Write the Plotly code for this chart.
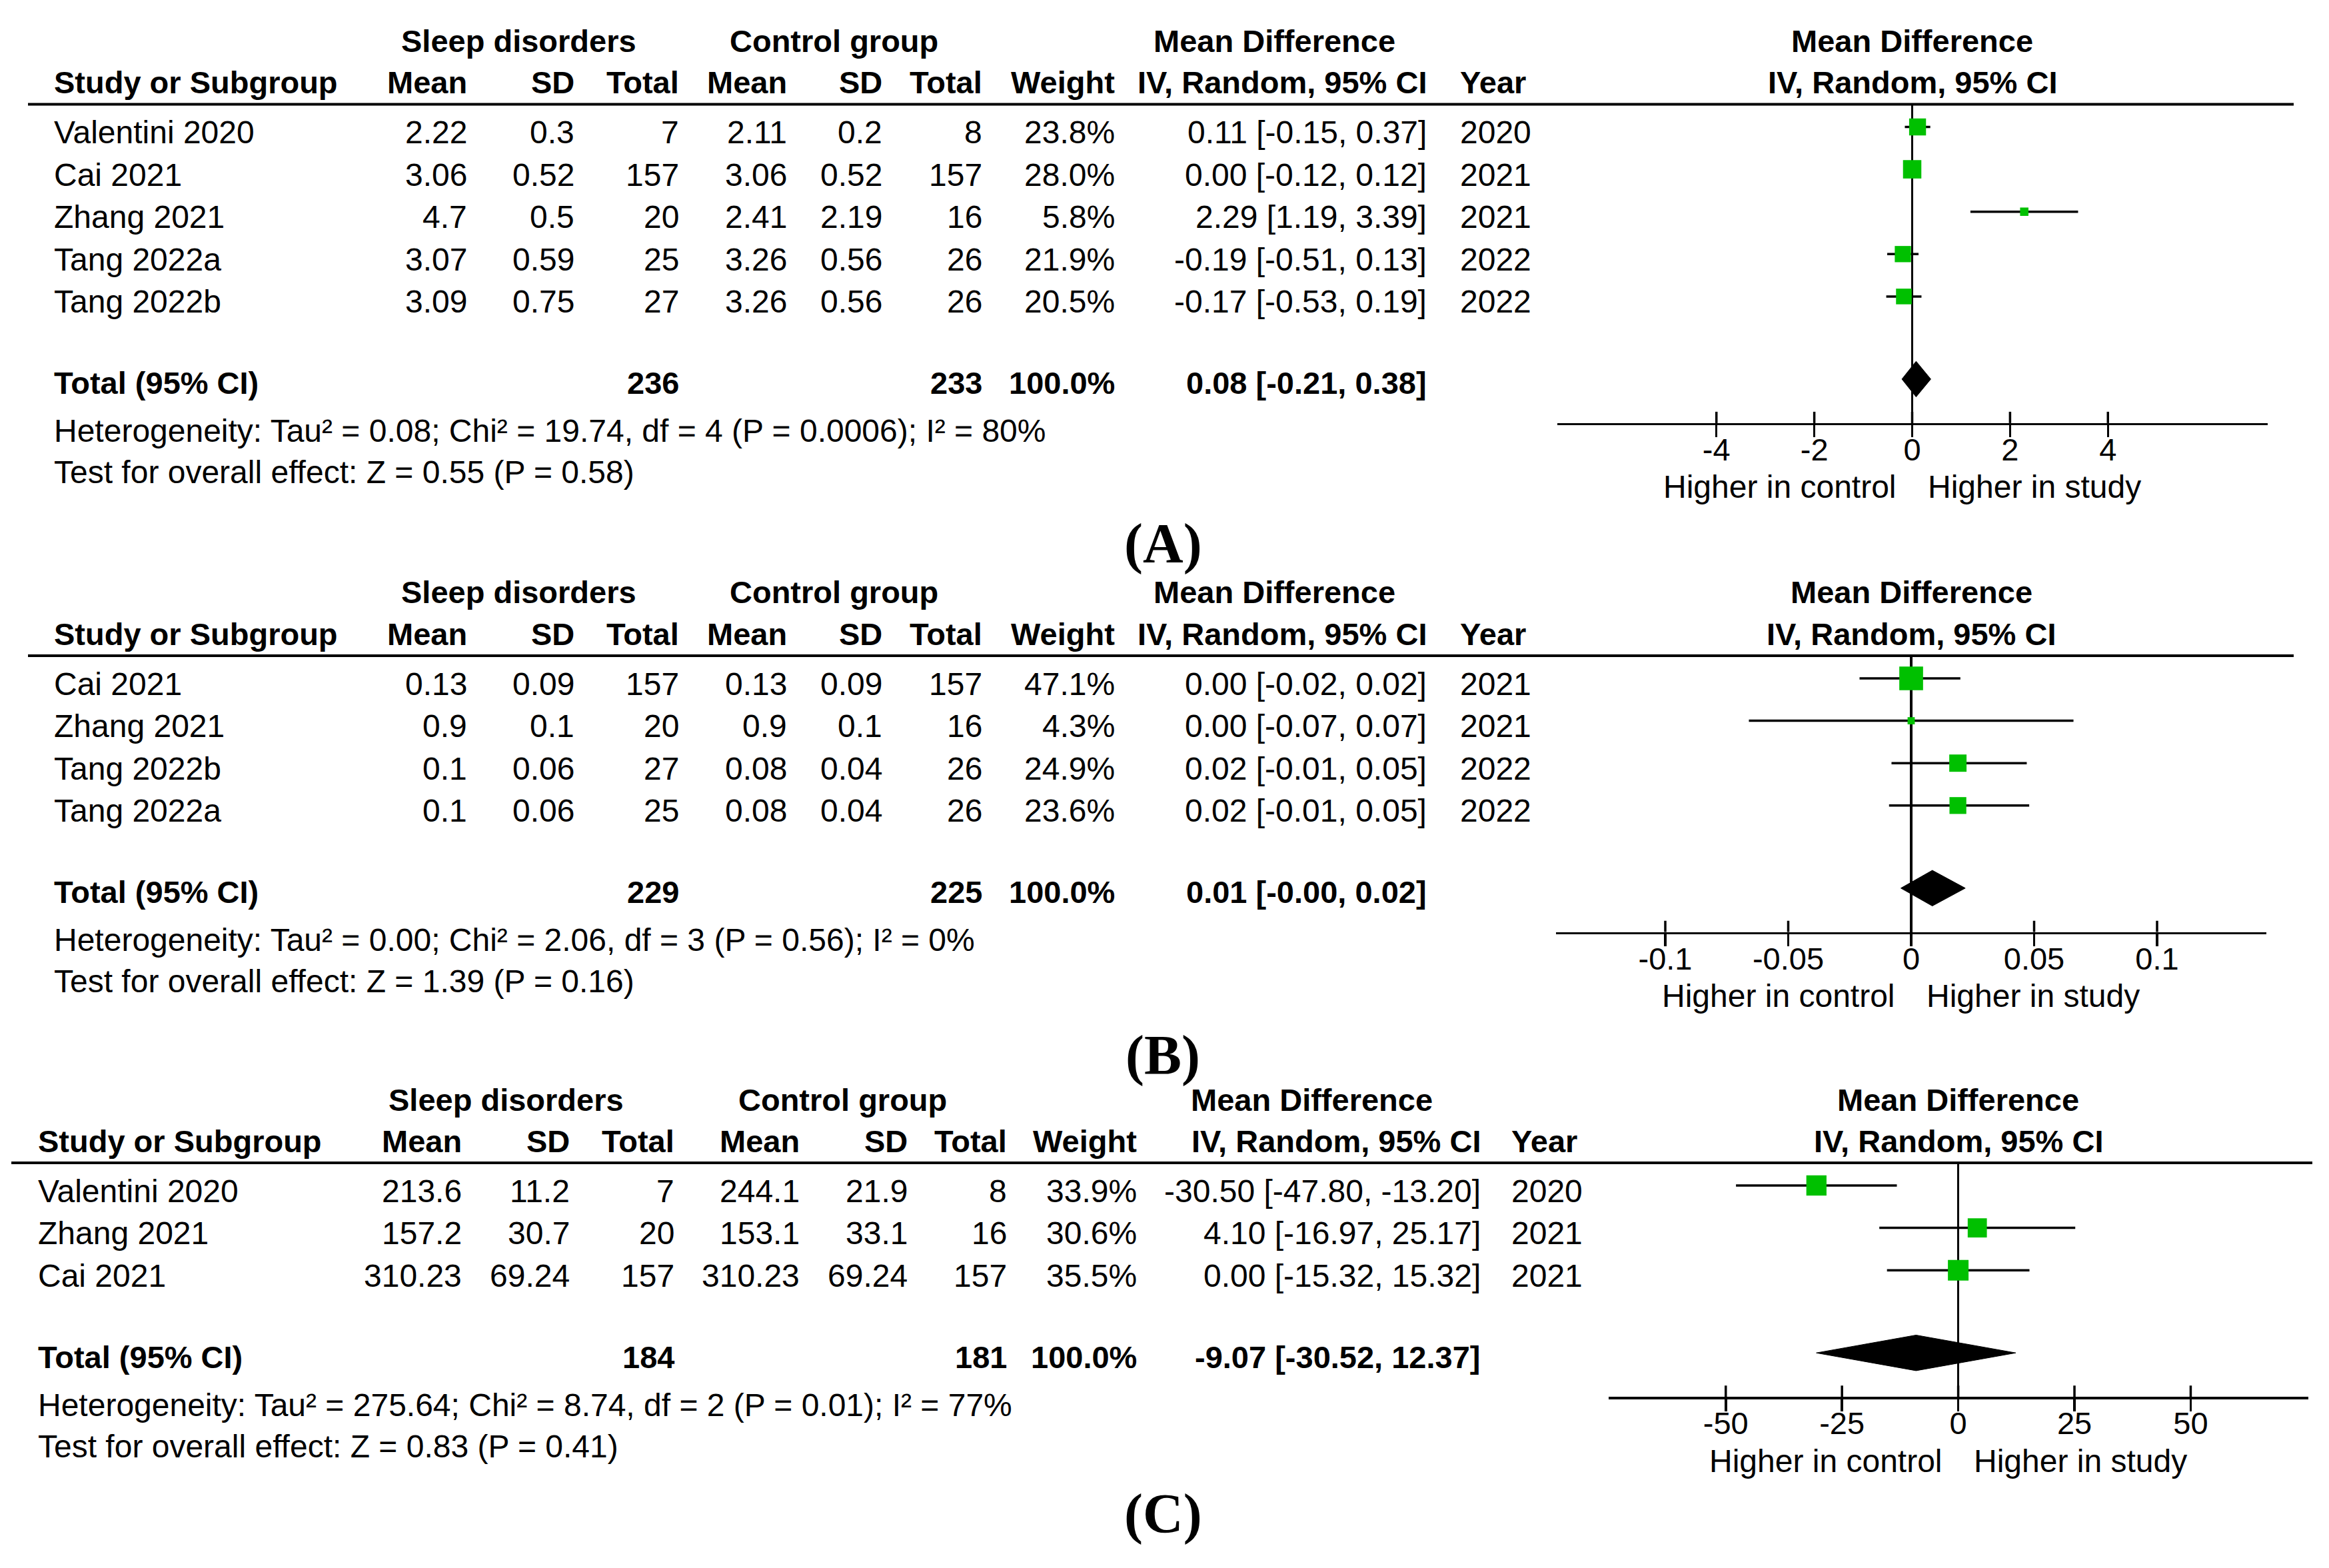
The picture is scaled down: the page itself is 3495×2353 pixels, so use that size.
import math
import plotly.graph_objects as go

W, H = 3495, 2353
FONT = "Liberation Sans, Arial, sans-serif"
SERIF = "Liberation Serif, Times New Roman, serif"
FS = 48      # regular text
FSB = 47     # bold text
FST = 47     # tick labels
GREEN = "#00C000"

# ---------------- Panel A data ----------------
A_study = ["Valentini 2020", "Cai 2021", "Zhang 2021", "Tang 2022a", "Tang 2022b"]
A_mean1 = [2.22, 3.06, 4.7, 3.07, 3.09]
A_sd1 = [0.3, 0.52, 0.5, 0.59, 0.75]
A_n1 = [7, 157, 20, 25, 27]
A_mean2 = [2.11, 3.06, 2.41, 3.26, 3.26]
A_sd2 = [0.2, 0.52, 2.19, 0.56, 0.56]
A_n2 = [8, 157, 16, 26, 26]
A_weight = [23.8, 28.0, 5.8, 21.9, 20.5]
A_md = [0.11, 0.00, 2.29, -0.19, -0.17]
A_lo = [-0.15, -0.12, 1.19, -0.51, -0.53]
A_hi = [0.37, 0.12, 3.39, 0.13, 0.19]
A_year = [2020, 2021, 2021, 2022, 2022]
A_total_n = [236, 233]
A_total_weight = 100.0
A_total_md = [0.08, -0.21, 0.38]
A_het = "Heterogeneity: Tau² = 0.08; Chi² = 19.74, df = 4 (P = 0.0006); I² = 80%"
A_test = "Test for overall effect: Z = 0.55 (P = 0.58)"
A_tickvals = [-4, -2, 0, 2, 4]
A_ticktext = ["-4", "-2", "0", "2", "4"]

# ---------------- Panel B data ----------------
B_study = ["Cai 2021", "Zhang 2021", "Tang 2022b", "Tang 2022a"]
B_mean1 = [0.13, 0.9, 0.1, 0.1]
B_sd1 = [0.09, 0.1, 0.06, 0.06]
B_n1 = [157, 20, 27, 25]
B_mean2 = [0.13, 0.9, 0.08, 0.08]
B_sd2 = [0.09, 0.1, 0.04, 0.04]
B_n2 = [157, 16, 26, 26]
B_weight = [47.1, 4.3, 24.9, 23.6]
B_md = [0.0, 0.0, 0.019, 0.019]
B_lo = [-0.021, -0.066, -0.008, -0.009]
B_hi = [0.020, 0.066, 0.047, 0.048]
B_year = [2021, 2021, 2022, 2022]
B_total_n = [229, 225]
B_total_weight = 100.0
B_total_md = [0.0086, -0.0042, 0.022]
B_het = "Heterogeneity: Tau² = 0.00; Chi² = 2.06, df = 3 (P = 0.56); I² = 0%"
B_test = "Test for overall effect: Z = 1.39 (P = 0.16)"
B_tickvals = [-0.1, -0.05, 0, 0.05, 0.1]
B_ticktext = ["-0.1", "-0.05", "0", "0.05", "0.1"]

# ---------------- Panel C data ----------------
C_study = ["Valentini 2020", "Zhang 2021", "Cai 2021"]
C_mean1 = [213.6, 157.2, 310.23]
C_sd1 = [11.2, 30.7, 69.24]
C_n1 = [7, 20, 157]
C_mean2 = [244.1, 153.1, 310.23]
C_sd2 = [21.9, 33.1, 69.24]
C_n2 = [8, 16, 157]
C_weight = [33.9, 30.6, 35.5]
C_md = [-30.50, 4.10, 0.00]
C_lo = [-47.80, -16.97, -15.32]
C_hi = [-13.20, 25.17, 15.32]
C_year = [2020, 2021, 2021]
C_total_n = [184, 181]
C_total_weight = 100.0
C_total_md = [-9.07, -30.52, 12.37]
C_het = "Heterogeneity: Tau² = 275.64; Chi² = 8.74, df = 2 (P = 0.01); I² = 77%"
C_test = "Test for overall effect: Z = 0.83 (P = 0.41)"
C_tickvals = [-50, -25, 0, 25, 50]
C_ticktext = ["-50", "-25", "0", "25", "50"]

# ---------------- layout constants (pixels) ----------------
COLS_AB = dict(name=80, mean1=702, sd1=863, n1=1020, mean2=1182, sd2=1325, n2=1475,
               weight=1674, ci=2142, year=2190, sleep=778, control=1251, mdhead=1912)
COLS_C = dict(name=56, mean1=694, sd1=856, n1=1013, mean2=1201, sd2=1363, n2=1512,
              weight=1707, ci=2223, year=2267, sleep=759, control=1264, mdhead=1968)
RP = 63.6  # row pitch

panels = [
    dict(tag="A", study=A_study, mean1=A_mean1, sd1=A_sd1, n1=A_n1, mean2=A_mean2, sd2=A_sd2,
         n2=A_n2, weight=A_weight, md=A_md, lo=A_lo, hi=A_hi, year=A_year, tn=A_total_n,
         tw=A_total_weight, tmd=A_total_md, het=A_het, test=A_test, tv=A_tickvals, tt=A_ticktext,
         L=156.5, cols=COLS_AB, line=(42, 3442), zero=2869.5, half=533, ppu=73.44, label_y=816),
    dict(tag="B", study=B_study, mean1=B_mean1, sd1=B_sd1, n1=B_n1, mean2=B_mean2, sd2=B_sd2,
         n2=B_n2, weight=B_weight, md=B_md, lo=B_lo, hi=B_hi, year=B_year, tn=B_total_n,
         tw=B_total_weight, tmd=B_total_md, het=B_het, test=B_test, tv=B_tickvals, tt=B_ticktext,
         L=984, cols=COLS_AB, line=(42, 3442), zero=2868, half=533, ppu=3690, label_y=1584),
    dict(tag="C", study=C_study, mean1=C_mean1, sd1=C_sd1, n1=C_n1, mean2=C_mean2, sd2=C_sd2,
         n2=C_n2, weight=C_weight, md=C_md, lo=C_lo, hi=C_hi, year=C_year, tn=C_total_n,
         tw=C_total_weight, tmd=C_total_md, het=C_het, test=C_test, tv=C_tickvals, tt=C_ticktext,
         L=1745, cols=COLS_C, line=(17, 3470), zero=2938.6, half=525, ppu=6.977, label_y=2272),
]

fig = go.Figure()
annotations = []
shapes = []


def ann(text, x, y, anchor="left", bold=False, size=None, family=FONT, xref="paper", xshift=0):
    if size is None:
        size = FSB if bold else FS
    if bold:
        text = "<b>" + text + "</b>"
    annotations.append(dict(
        text=text, x=(x / W if xref == "paper" else x), y=1 - y / H,
        xref=xref, yref="paper", xanchor=anchor, yanchor="middle",
        showarrow=False, xshift=xshift, borderpad=0,
        font=dict(family=family, size=size, color="black")))


def ci_text(m, l, h):
    return f"{m:.2f} [{l:.2f}, {h:.2f}]"


layout_axes = {}
for k, p in enumerate(panels, start=1):
    xa = "x" if k == 1 else f"x{k}"
    ya = "y" if k == 1 else f"y{k}"
    xkey = "xaxis" if k == 1 else f"xaxis{k}"
    ykey = "yaxis" if k == 1 else f"yaxis{k}"
    L = p["L"]
    c = p["cols"]
    n = len(p["study"])

    def ypx(row, L=L):
        return L + 34 + RP * row

    total_row = (n - 1) + 124 / RP
    axis_row = total_row + 66 / RP
    top_row = -34 / RP
    axis_px = ypx(axis_row)

    layout_axes[xkey] = dict(
        domain=[(p["zero"] - p["half"]) / W, (p["zero"] + p["half"]) / W],
        range=[-p["half"] / p["ppu"], p["half"] / p["ppu"]],
        anchor=ya, showgrid=False, zeroline=True, zerolinecolor="black", zerolinewidth=3.5,
        showline=True, linecolor="black", linewidth=3.5,
        ticks="outside", ticklen=18, tickwidth=3.5, tickcolor="black",
        ticklabelstandoff=-22,
        tickvals=p["tv"], ticktext=p["tt"],
        tickfont=dict(family=FONT, size=FST, color="black"), fixedrange=True)
    layout_axes[ykey] = dict(
        domain=[1 - axis_px / H, 1 - L / H], range=[axis_row, top_row],
        anchor=xa, visible=False, fixedrange=True)

    # confidence interval lines
    cx, cy = [], []
    for i in range(n):
        cx += [p["lo"][i], p["hi"][i], None]
        cy += [i, i, None]
    fig.add_trace(go.Scatter(x=cx, y=cy, mode="lines", line=dict(color="black", width=3.5),
                             xaxis=xa, yaxis=ya, hoverinfo="skip", showlegend=False))
    # study squares
    fig.add_trace(go.Scatter(
        x=p["md"], y=list(range(n)), mode="markers",
        marker=dict(symbol="square", color=GREEN, opacity=1, line=dict(width=0),
                    size=[5.2 * math.sqrt(w) for w in p["weight"]]),
        xaxis=xa, yaxis=ya, hoverinfo="skip", showlegend=False))
    # pooled diamond
    tm, tl, th = p["tmd"]
    hh = 26.7 / RP
    fig.add_trace(go.Scatter(
        x=[tl, tm, th, tm, tl], y=[total_row, total_row - hh, total_row, total_row + hh, total_row],
        mode="lines", fill="toself", fillcolor="black", line=dict(color="black", width=1),
        xaxis=xa, yaxis=ya, hoverinfo="skip", showlegend=False))
    # upper half of tick marks (ticks cross the axis line)
    tx, ty = [], []
    for t in p["tv"]:
        tx += [t, t, None]
        ty += [axis_row, axis_row - 17 / RP, None]
    fig.add_trace(go.Scatter(x=tx, y=ty, mode="lines", line=dict(color="black", width=3.5),
                             xaxis=xa, yaxis=ya, hoverinfo="skip", showlegend=False))

    # header rule
    shapes.append(dict(type="line", xref="paper", yref="paper",
                       x0=p["line"][0] / W, x1=p["line"][1] / W, y0=1 - L / H, y1=1 - L / H,
                       line=dict(color="black", width=4)))

    # headers
    h1 = L - 95
    h2 = L - 33
    ann("Sleep disorders", c["sleep"], h1, "center", bold=True)
    ann("Control group", c["control"], h1, "center", bold=True)
    ann("Mean Difference", c["mdhead"], h1, "center", bold=True)
    ann("Mean Difference", 0, h1, "center", bold=True, xref=xa)
    ann("Study or Subgroup", c["name"], h2, "left", bold=True)
    for key, lab in [("mean1", "Mean"), ("sd1", "SD"), ("n1", "Total"), ("mean2", "Mean"),
                     ("sd2", "SD"), ("n2", "Total"), ("weight", "Weight"),
                     ("ci", "IV, Random, 95% CI")]:
        ann(lab, c[key], h2, "right", bold=True)
    ann("Year", c["year"], h2, "left", bold=True)
    ann("IV, Random, 95% CI", 0, h2, "center", bold=True, xref=xa)

    # study rows
    for i in range(n):
        yy = ypx(i) + 8
        ann(p["study"][i], c["name"], yy, "left")
        ann(str(p["mean1"][i]), c["mean1"], yy, "right")
        ann(str(p["sd1"][i]), c["sd1"], yy, "right")
        ann(str(p["n1"][i]), c["n1"], yy, "right")
        ann(str(p["mean2"][i]), c["mean2"], yy, "right")
        ann(str(p["sd2"][i]), c["sd2"], yy, "right")
        ann(str(p["n2"][i]), c["n2"], yy, "right")
        ann(f"{p['weight'][i]:.1f}%", c["weight"], yy, "right")
        ann(ci_text(p["md"][i], p["lo"][i], p["hi"][i]), c["ci"], yy, "right")
        ann(str(p["year"][i]), c["year"], yy, "left")

    # total row
    ty_px = ypx(n - 1) + 130
    ann("Total (95% CI)", c["name"], ty_px, "left", bold=True)
    ann(str(p["tn"][0]), c["n1"], ty_px, "right", bold=True)
    ann(str(p["tn"][1]), c["n2"], ty_px, "right", bold=True)
    ann(f"{p['tw']:.1f}%", c["weight"], ty_px, "right", bold=True)
    ann(ci_text(tm, tl, th), c["ci"], ty_px, "right", bold=True)
    ann(p["het"], c["name"], ty_px + 72, "left")
    ann(p["test"], c["name"], ty_px + 134, "left")

    # direction labels
    ann("Higher in control", 0, axis_px + 96, "right", xref=xa, xshift=-23)
    ann("Higher in study", 0, axis_px + 96, "left", xref=xa, xshift=22)

    # panel label
    ann(f"({p['tag']})", 1745, p["label_y"], "center", bold=True, size=84, family=SERIF)

fig.update_layout(
    width=W, height=H, autosize=False,
    margin=dict(l=0, r=0, t=0, b=0, pad=0),
    paper_bgcolor="white", plot_bgcolor="white",
    showlegend=False, annotations=annotations, shapes=shapes,
    **layout_axes)

fig.write_html("out.html", config={"displayModeBar": False, "staticPlot": True},
               post_script="document.body.style.margin='0';")
